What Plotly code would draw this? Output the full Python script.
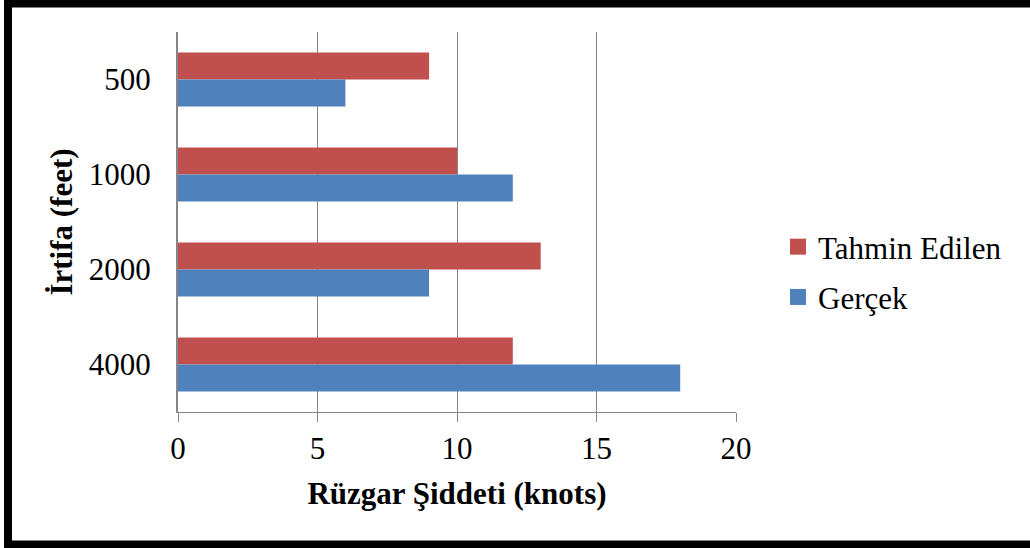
import plotly.graph_objects as go

categories = ["500", "1000", "2000", "4000"]
tahmin = [9, 10, 13, 12]
gercek = [6, 12, 9, 18]
x_ticks = [0, 5, 10, 15, 20]

RED = "#C0504D"
BLUE = "#4F81BD"
GRID = "#868686"
FONT = "Liberation Serif, Times New Roman, serif"

fig = go.Figure()
fig.add_trace(go.Bar(y=categories, x=tahmin, orientation="h", name="Tahmin Edilen",
                     marker=dict(color=RED, line=dict(width=0)), showlegend=False))
fig.add_trace(go.Bar(y=categories, x=gercek, orientation="h", name="Gerçek",
                     marker=dict(color=BLUE, line=dict(width=0)), showlegend=False))
# legend entries with larger square swatches
fig.add_trace(go.Scatter(x=[None], y=[None], mode="markers", name="Tahmin Edilen",
                         marker=dict(symbol="square", size=17, color=RED, line=dict(width=0)),
                         legendgroup="a", hoverinfo="skip"))
fig.add_trace(go.Scatter(x=[None], y=[None], mode="markers", name="Gerçek",
                         marker=dict(symbol="square", size=17, color=BLUE, line=dict(width=0)),
                         legendgroup="b", hoverinfo="skip"))

L, R, T, B = 178, 294, 32, 136
W, H = 1030, 548
pw, ph = W - L - R, H - T - B

def px_x(p):
    return (p - L) / pw

def px_y(p):
    return (H - B - p) / ph

fig.update_layout(
    width=W, height=H,
    margin=dict(l=L, r=R, t=T, b=B, pad=0),
    paper_bgcolor="white", plot_bgcolor="white",
    font=dict(family=FONT, size=31, color="black"),
    barmode="group", bargap=0.43, bargroupgap=0,
    showlegend=True,
    legend=dict(x=px_x(778), xanchor="left", y=px_y(272), yanchor="middle",
                traceorder="grouped", tracegroupgap=7,
                font=dict(family=FONT, size=31, color="black"),
                bgcolor="rgba(0,0,0,0)"),
    xaxis=dict(range=[0, 20], tickvals=x_ticks, showgrid=True, gridcolor=GRID, gridwidth=1,
               showline=True, linecolor=GRID, linewidth=1,
               ticks="outside", ticklen=9, tickcolor=GRID, tickwidth=1,
               zeroline=False,
               tickfont=dict(family=FONT, size=31),
               title=dict(text="<b>Rüzgar Şiddeti (knots)</b>", font=dict(family=FONT, size=31), standoff=17)),
    yaxis=dict(categoryorder="array", categoryarray=categories, autorange="reversed",
               showline=True, linecolor=GRID, linewidth=2, showgrid=False,
               ticks="", ticklabelstandoff=19,
               tickfont=dict(family=FONT, size=31),
               title=dict(text="<b>İrtifa (feet)</b>", font=dict(family=FONT, size=31), standoff=7)),
    shapes=[dict(type="rect", xref="paper", yref="paper",
                 x0=px_x(8), x1=px_x(1040), y0=px_y(544.5), y1=px_y(3.5),
                 line=dict(color="black", width=8), fillcolor="rgba(0,0,0,0)", layer="above")],
)

fig.write_html("out.html", config={"displayModeBar": False},
               post_script="document.body.style.margin='0';document.body.style.overflow='hidden';")
